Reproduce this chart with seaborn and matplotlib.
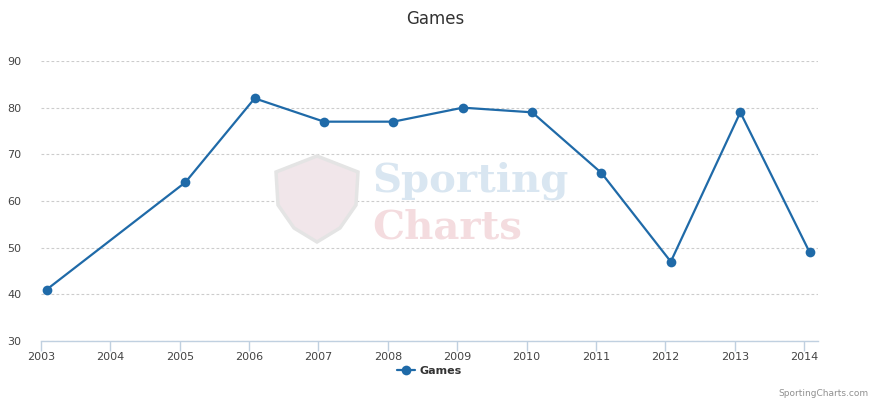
import matplotlib
matplotlib.use("Agg")
import matplotlib.pyplot as plt
import matplotlib.dates as mdates
from matplotlib.patches import Polygon
import seaborn as sns
import pandas as pd

# ---- data ----
dates = ["2003-01-30", "2005-01-30", "2006-01-30", "2007-01-30", "2008-01-30",
         "2009-01-30", "2010-01-30", "2011-01-30", "2012-01-30", "2013-01-30",
         "2014-01-30"]
games = [41, 64, 82, 77, 77, 80, 79, 66, 47, 79, 49]
tick_years = list(range(2003, 2015))
y_ticks = [30, 40, 50, 60, 70, 80, 90]

df = pd.DataFrame({"date": pd.to_datetime(dates), "Games": games})

sns.set_theme(style="white")
plt.rcParams["font.family"] = ["DejaVu Sans"]

W, H = 871, 401
fig = plt.figure(figsize=(W / 100, H / 100), dpi=100)
ax = fig.add_axes([41 / W, 1 - 341 / H, (818 - 41) / W, (341 - 61) / H])

line_color = "#1f6aa8"

# watermark (behind)
fig.text(372 / W, 1 - 181 / H, "Sporting", fontsize=29, fontweight="bold",
         family="DejaVu Serif", color="#d9e6f1", va="center", ha="left", zorder=0)
fig.text(372 / W, 1 - 227 / H, "Charts", fontsize=29, fontweight="bold",
         family="DejaVu Serif", color="#f4dcdf", va="center", ha="left", zorder=0)
shield = [(276, 172), (317, 156), (358, 172), (356, 205), (340, 228), (317, 242),
          (294, 228), (278, 205)]
fig.patches.append(Polygon([(x / W, 1 - y / H) for x, y in shield], closed=True,
                           transform=fig.transFigure, facecolor="#f1e6ea",
                           edgecolor="#e4e4e4", linewidth=2.5, zorder=0))
ax.patch.set_alpha(0)

sns.lineplot(data=df, x="date", y="Games", ax=ax, color=line_color, linewidth=1.6,
             marker="o", markersize=7, markeredgewidth=0, label="Games", zorder=3)

ax.set_xlim(pd.Timestamp("2003-01-01"), pd.Timestamp("2014-03-15"))
ax.set_ylim(30, 90)
ax.set_xticks([pd.Timestamp(f"{y}-01-01") for y in tick_years])
ax.xaxis.set_major_formatter(mdates.DateFormatter("%Y"))
ax.set_yticks(y_ticks)
ax.set_xlabel("")
ax.set_ylabel("")

ax.grid(axis="y", color="#cccccc", linestyle=(0, (2.5, 2)), linewidth=0.8)
ax.grid(axis="x", visible=False)
for s in ["top", "right", "left"]:
    ax.spines[s].set_visible(False)
ax.spines["bottom"].set_color("#c0d0e0")
ax.spines["bottom"].set_linewidth(1)

ax.tick_params(axis="x", bottom=True, direction="out", length=7, width=1,
               color="#c0d0e0", labelsize=8, labelcolor="#444444", pad=1)
ax.tick_params(axis="y", left=False, length=0, labelsize=8, labelcolor="#444444",
               pad=14)

fig.text(0.5, 1 - 19 / H, "Games", ha="center", va="center", fontsize=12,
         color="#333333")

leg = ax.legend(loc="upper center", bbox_to_anchor=(0.5, -0.07), frameon=False,
                prop={"weight": "bold", "size": 8}, handlelength=1.6,
                handletextpad=0.4, borderpad=0)
for t in leg.get_texts():
    t.set_color("#333333")

fig.text(868 / W, 1 - 394 / H, "SportingCharts.com", ha="right", va="center",
         fontsize=6.5, color="#909090")

fig.savefig("out.png", dpi=100, facecolor="white")
